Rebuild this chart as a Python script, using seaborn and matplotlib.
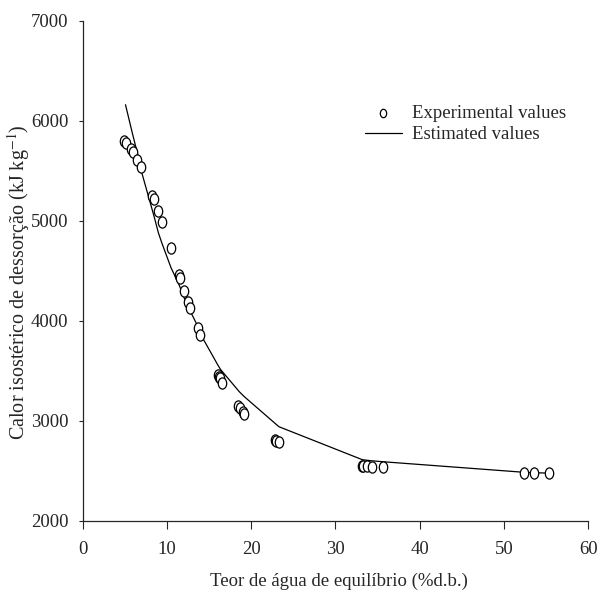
import matplotlib
matplotlib.use("Agg")
import matplotlib.pyplot as plt
from matplotlib.path import Path
from matplotlib.transforms import Affine2D
import seaborn as sns
import pandas as pd

# experimental points (moisture %d.b., heat kJ/kg)
exp_x = [4.9, 5.2, 5.8, 6.0, 6.5, 6.9, 8.3, 8.45, 9.0, 9.4, 10.5,
         11.5, 11.6, 12.05, 12.55, 12.75, 13.75, 13.9,
         16.1, 16.2, 16.3, 16.5, 18.5, 18.7, 19.0, 19.2,
         22.8, 22.95, 23.3, 33.1, 33.3, 33.7, 34.3, 35.7,
         52.4, 53.5, 55.3]
exp_y = [5800, 5780, 5720, 5690, 5610, 5540, 5250, 5220, 5100, 4985, 4725,
         4457, 4425, 4300, 4185, 4125, 3925, 3857,
         3457, 3440, 3424, 3380, 3150, 3130, 3090, 3070,
         2807, 2800, 2790, 2552, 2550, 2550, 2540, 2534,
         2474, 2474, 2474]

# estimated (model) values
est_x = [5.1, 5.5, 5.9, 6.5, 6.9, 8.3, 8.5, 9.0, 9.4, 10.5, 11.5, 12.0,
         12.7, 13.7, 13.9, 16.1, 16.4, 18.6, 19.2, 23.3, 33.2, 34.2, 35.6,
         52.4, 53.5, 55.3]
est_y = [6160, 6020, 5880, 5680, 5520, 5100, 5040, 4880, 4780, 4530, 4350, 4240,
         4110, 3940, 3880, 3550, 3510, 3290, 3240, 2940, 2610, 2600, 2590,
         2484, 2480, 2476]

df_exp = pd.DataFrame({"x": exp_x, "y": exp_y})
df_est = pd.DataFrame({"x": est_x, "y": est_y})

sns.set_style("ticks")
plt.rcParams["font.family"] = ["Liberation Serif", "DejaVu Serif"]
plt.rcParams["mathtext.fontset"] = "stix"

fs = 13.5

# open circle, a bit taller than wide like in the original
oval = Affine2D().scale(0.75, 1.0).transform_path(Path.unit_circle())

fig = plt.figure(figsize=(6, 6.04), dpi=100)
ax = fig.add_axes([0.1375, 0.1379, 0.843, 0.8278])

sns.lineplot(data=df_est, x="x", y="y", ax=ax, color="black", linewidth=0.9,
             label="Estimated values", sort=True)
sns.scatterplot(data=df_exp, x="x", y="y", ax=ax, marker=oval, s=65,
                facecolor="white", edgecolor="black", linewidth=0.9,
                label="Experimental values", zorder=3)

ax.set_xlim(0, 60)
ax.set_ylim(2000, 7000)
ax.set_xticks(range(0, 61, 10))
ax.set_yticks(range(2000, 7001, 1000))
ax.tick_params(axis="x", labelsize=fs, length=5.5, width=0.8, pad=9)
ax.tick_params(axis="y", labelsize=fs, length=3, width=0.8, pad=7)
for s in ["top", "right"]:
    ax.spines[s].set_visible(False)
for s in ["left", "bottom"]:
    ax.spines[s].set_linewidth(0.9)

ax.set_xlabel("Teor de água de equilíbrio (%d.b.)", fontsize=fs)
ax.xaxis.set_label_coords(0.507, -0.104)
ax.set_ylabel("Calor isostérico de dessorção (kJ kg$^{-1}$)", fontsize=14.5)
ax.yaxis.set_label_coords(-0.127, 0.477)
ax.yaxis.label.set_va("center")

h, l = ax.get_legend_handles_labels()
ax.legend(h[::-1], l[::-1], loc="upper left", bbox_to_anchor=(0.608, 0.826),
          bbox_transform=fig.transFigure, frameon=False, fontsize=fs,
          borderpad=0, borderaxespad=0, markerscale=0.75,
          handlelength=1.96, handletextpad=0.55, labelspacing=0.2)

fig.savefig("out.png", dpi=100)
